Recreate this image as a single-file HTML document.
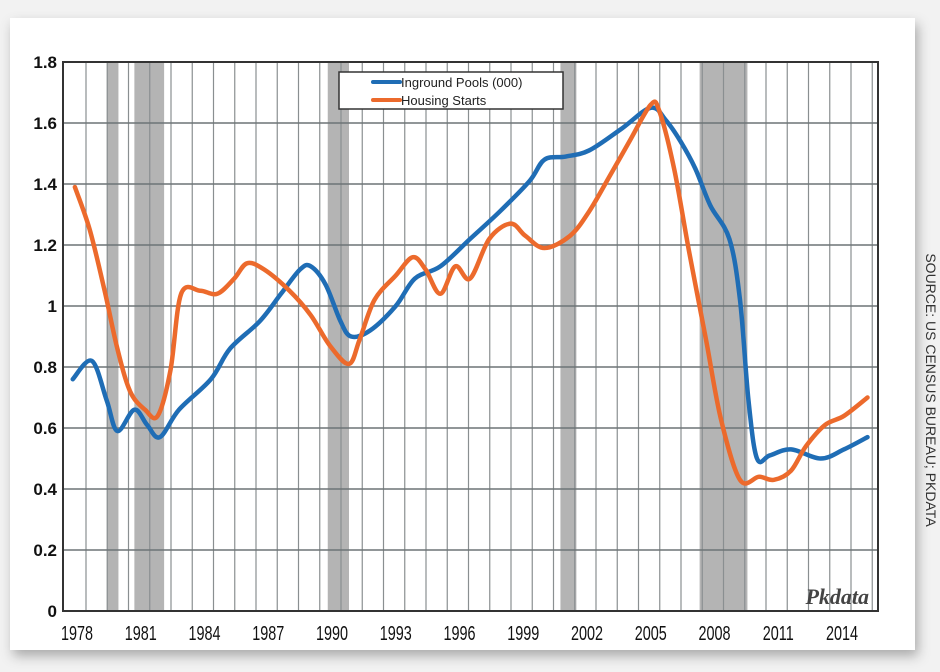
<!DOCTYPE html>
<html><head><meta charset="utf-8"><style>
body{margin:0;width:940px;height:672px;background:#f2f2f2;overflow:hidden;font-family:"Liberation Sans",sans-serif}
svg{position:absolute;left:0;top:0}
</style></head><body>
<svg width="940" height="672">
<defs><filter id="sh" x="-5%" y="-5%" width="110%" height="115%"><feDropShadow dx="3" dy="6" stdDeviation="6" flood-color="#000" flood-opacity="0.3"/></filter></defs>
<rect x="10" y="18" width="905" height="632" fill="#fff" filter="url(#sh)"/>
<g id="bands"></g><g id="grid"></g><g id="yt"></g><g id="xt"></g>
<rect x="63" y="62" width="815" height="549" fill="none" stroke="#333" stroke-width="2"/>
<g id="lines"></g>
<g>
<rect x="339" y="72" width="224" height="37" fill="#fff" stroke="#333" stroke-width="1.5"/>
<line x1="373" y1="82" x2="400" y2="82" stroke="#1f6db5" stroke-width="4" stroke-linecap="round"/>
<text x="401" y="87" font-size="13" fill="#222">Inground Pools (000)</text>
<line x1="373" y1="100" x2="400" y2="100" stroke="#ec6a2c" stroke-width="4" stroke-linecap="round"/>
<text x="401" y="105" font-size="13" fill="#222">Housing Starts</text>
</g>
<text x="869" y="604" text-anchor="end" font-family="Liberation Serif,serif" font-style="italic" font-weight="bold" font-size="22" fill="#444">Pkdata</text>
<text transform="translate(926,390) rotate(90)" text-anchor="middle" font-size="14" fill="#333">SOURCE: US CENSUS BUREAU; PKDATA</text>
</svg>
<script>
const yTicks=[0,0.2,0.4,0.6,0.8,1,1.2,1.4,1.6,1.8];
const yTickLabels=["0","0.2","0.4","0.6","0.8","1","1.2","1.4","1.6","1.8"];
const xTickYears=[1978,1981,1984,1987,1990,1993,1996,1999,2002,2005,2008,2011,2014];
const recessions=[[1979.4,1979.95],[1980.7,1982.1],[1989.8,1990.8],[2000.75,2001.5],[2007.3,2009.55]];
const poolYears=[1977.8,1978.7,1979.4,1979.9,1980.7,1981.3,1981.9,1982.8,1984.3,1985.2,1986.6,1987.6,1988.5,1989.0,1989.7,1990.4,1990.9,1991.8,1993.0,1993.9,1995.1,1996.5,1997.9,1999.3,2000.0,2001.0,2002.1,2003.6,2005.0,2005.7,2006.4,2007.1,2007.8,2008.7,2009.2,2009.6,2010.0,2010.6,2011.6,2013.0,2014.1,2015.2];
const poolValues=[0.76,0.82,0.69,0.59,0.66,0.61,0.57,0.66,0.76,0.86,0.95,1.04,1.12,1.13,1.07,0.95,0.90,0.92,1.00,1.09,1.13,1.22,1.31,1.41,1.48,1.49,1.51,1.58,1.65,1.61,1.54,1.45,1.33,1.22,1.02,0.69,0.50,0.51,0.53,0.50,0.53,0.57];
const houseYears=[1977.9,1978.6,1979.3,1979.9,1980.5,1981.2,1981.8,1982.4,1982.9,1983.8,1984.6,1985.4,1986.0,1986.8,1988.0,1989.0,1989.9,1990.8,1991.3,1992.0,1993.0,1993.8,1994.4,1995.1,1995.8,1996.5,1997.4,1998.4,1999.1,2000.0,2001.2,2002.1,2003.1,2004.0,2005.0,2005.4,2006.1,2006.8,2007.6,2008.3,2009.2,2010.1,2010.8,2011.6,2012.3,2013.2,2014.1,2015.2];
const houseValues=[1.39,1.25,1.05,0.86,0.72,0.66,0.64,0.79,1.04,1.05,1.04,1.09,1.14,1.12,1.05,0.97,0.87,0.81,0.89,1.02,1.10,1.16,1.12,1.04,1.13,1.09,1.22,1.27,1.23,1.19,1.23,1.31,1.43,1.54,1.66,1.64,1.45,1.18,0.89,0.63,0.43,0.44,0.43,0.46,0.54,0.61,0.64,0.70];
const NS="http://www.w3.org/2000/svg";
const X0=63,X1=878,Y0=611,Y1=62;
const xs=yr=>77+(yr-1978)*21.25;
const ys=v=>Y0-(v/1.8)*(Y0-Y1);
function mk(tag,attrs,parent){const e=document.createElementNS(NS,tag);for(const k in attrs)e.setAttribute(k,attrs[k]);document.getElementById(parent).appendChild(e);return e;}
recessions.forEach(r=>{const e=mk('rect',{x:xs(r[0]),y:Y1,width:xs(r[1])-xs(r[0]),height:Y0-Y1,fill:'#b4b4b4'},'bands');

});
for(let gx=86;gx<X1;gx+=21.25){const e=mk('line',{x1:gx,x2:gx,y1:Y1,y2:Y0,stroke:'#8a8f91','stroke-width':1.2},'grid');

}
yTicks.forEach((t,i)=>{const l=mk('line',{x1:X0,x2:X1,y1:ys(t),y2:ys(t),stroke:'#6d7476','stroke-width':1.5},'grid');


const tx=mk('text',{x:57,y:ys(t)+6,'text-anchor':'end','font-size':17,'font-weight':'bold',fill:'#111'},'yt');tx.textContent=yTickLabels[i];

});
xTickYears.forEach(yr=>{const tx=mk('text',{x:xs(yr),y:640,'text-anchor':'middle','font-size':20,fill:'#111',transform:`translate(${xs(yr)},0) scale(0.72,1) translate(${-xs(yr)},0)`},'xt');tx.textContent=yr;

});
function path(xv,yv){const p=xv.map((x,i)=>[xs(x),ys(yv[i])]);let d=`M${p[0][0]},${p[0][1]}`;
for(let i=0;i<p.length-1;i++){const a=p[Math.max(0,i-1)],b=p[i],c=p[i+1],e=p[Math.min(p.length-1,i+2)];
d+=` C${b[0]+(c[0]-a[0])/6},${b[1]+(c[1]-a[1])/6} ${c[0]-(e[0]-b[0])/6},${c[1]-(e[1]-b[1])/6} ${c[0]},${c[1]}`;}return d;}
const pl=mk('path',{d:path(poolYears,poolValues),fill:'none',stroke:'#1f6db5','stroke-width':4.5,'stroke-linecap':'round'},'lines');


const hl=mk('path',{d:path(houseYears,houseValues),fill:'none',stroke:'#ec6a2c','stroke-width':4.5,'stroke-linecap':'round'},'lines');


</script>
</body></html>
